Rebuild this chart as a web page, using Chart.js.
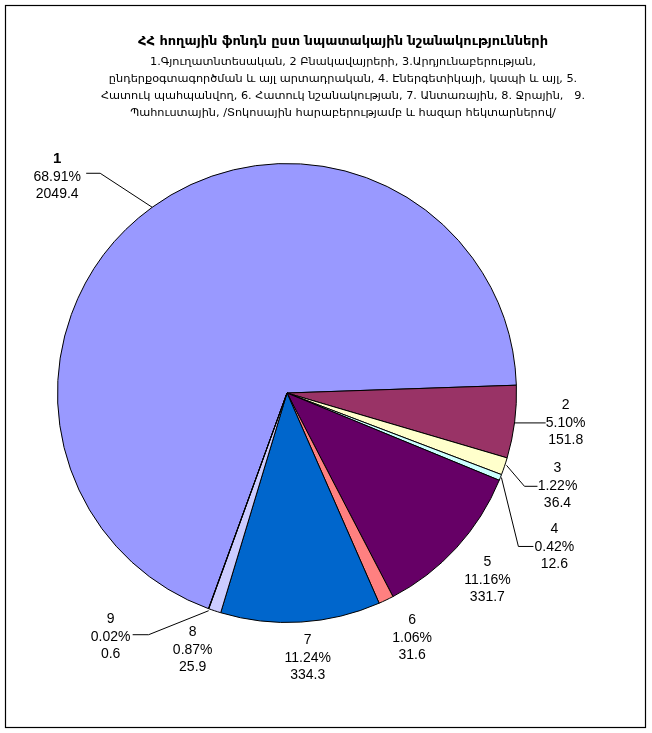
<!DOCTYPE html>
<html>
<head>
<meta charset="utf-8">
<script src="https://cdn.jsdelivr.net/npm/chart.js@4.4.0/dist/chart.umd.min.js"></script>
<style>
  body { margin: 0; background: #fff; }
  canvas { display: block; }
</style>
</head>
<body>
<canvas id="landChart" width="652" height="733"></canvas>
<script>
// data (thousand hectares)
const categories = ['1', '2', '3', '4', '5', '6', '7', '8', '9'];
const areaValues = [2049.4, 151.8, 36.4, 12.6, 331.7, 31.6, 334.3, 25.9, 0.6];
const percentLabels = ['68.91%', '5.10%', '1.22%', '0.42%', '11.16%', '1.06%', '11.24%', '0.87%', '0.02%'];

const titleText = 'ՀՀ հողային ֆոնդն ըստ նպատակային նշանակությունների';
const subtitleLines = [
    '1.Գյուղատնտեսական, 2 Բնակավայրերի, 3.Արդյունաբերության,',
    'ընդերքօգտագործման և այլ արտադրական, 4. Էներգետիկայի, կապի և այլ, 5.',
    'Հատուկ պահպանվող, 6. Հատուկ նշանակության, 7. Անտառային, 8. Ջրային,   9.',
    'Պահուստային, /Տոկոսային հարաբերությամբ և հազար հեկտարներով/'
];

const sliceColors = ['#9999FF', '#993366', '#FFFFCC', '#CCFFFF', '#660066', '#FF8080', '#0066CC', '#CCCCFF', '#000080'];

// label placement relative to the middle of each slice's outer edge
const labelOffsets = [[-95, -30], [51, 1], [53, 20], [54, 70], [31, 32], [26, 38], [7, 36], [-22, 39], [-98, 28]];
const leaderLines = {
    0: [[0, 0], [-52, -34], [-66, -34]],
    1: [[0, 1], [31, 1]],
    2: [[2, -1], [20, 20], [33, 20]],
    3: [[1, 0], [18, 69], [33, 69]],
    8: [[0, 2], [-60, 26], [-76, 26]]
};

const labelPlugin = {
    id: 'sliceLabels',
    afterDraw(chart) {
        const ctx = chart.ctx;
        const meta = chart.getDatasetMeta(0);

        // frame
        ctx.save();
        ctx.strokeStyle = '#000';
        ctx.lineWidth = 1.2;
        ctx.strokeRect(5.5, 5.5, 640, 722);

        // title
        ctx.fillStyle = '#000';
        ctx.textAlign = 'center';
        ctx.textBaseline = 'middle';
        ctx.font = 'bold 13px "DejaVu Sans"';
        ctx.fillText(titleText, 343, 42);
        ctx.font = '11.3px "DejaVu Sans"';
        subtitleLines.forEach((line, i) => ctx.fillText(line, 343, 62 + i * 17));

        meta.data.forEach((arc, i) => {
            const p = arc.getProps(['x', 'y', 'startAngle', 'endAngle', 'outerRadius'], true);
            const mid = (p.startAngle + p.endAngle) / 2;
            const ex = p.x + Math.cos(mid) * p.outerRadius;
            const ey = p.y + Math.sin(mid) * p.outerRadius;

            if (leaderLines[i]) {
                ctx.strokeStyle = '#000';
                ctx.lineWidth = 1;
                ctx.beginPath();
                leaderLines[i].forEach(([dx, dy], k) => {
                    if (k === 0) ctx.moveTo(ex + dx, ey + dy);
                    else ctx.lineTo(ex + dx, ey + dy);
                });
                ctx.stroke();
            }

            const lx = ex + labelOffsets[i][0];
            const ly = ey + labelOffsets[i][1];
            ctx.fillStyle = '#000';
            ctx.font = i === 0 ? 'bold 15px "Liberation Sans", Arial' : '14px "Liberation Sans", Arial';
            ctx.fillText(categories[i], lx, ly - 18);
            ctx.font = '14px "Liberation Sans", Arial';
            ctx.fillText(percentLabels[i], lx, ly);
            ctx.fillText(areaValues[i].toFixed(1), lx, ly + 17);
        });
        ctx.restore();
    }
};

const chart = new Chart(document.getElementById('landChart'), {
    type: 'pie',
    data: {
        labels: categories,
        datasets: [{
            data: areaValues,
            backgroundColor: sliceColors,
            borderColor: '#000',
            borderWidth: 1
        }]
    },
    options: {
        responsive: false,
        animation: false,
        rotation: -160,
        layout: { padding: { left: 57, right: 135, top: 163, bottom: 110 } },
        plugins: {
            legend: { display: false },
            tooltip: { enabled: false },
            title: { display: false }
        }
    },
    plugins: [labelPlugin]
});
</script>
</body>
</html>
